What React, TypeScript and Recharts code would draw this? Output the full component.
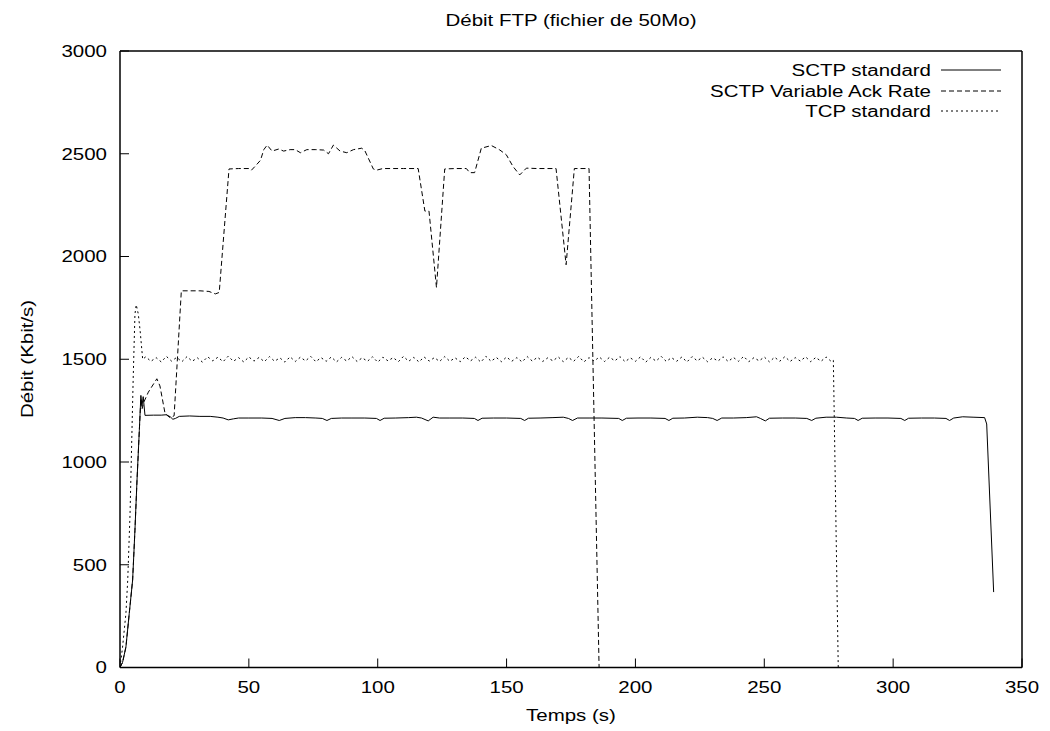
import { LineChart, Line, XAxis, YAxis, Legend } from "recharts";

const FONT = '"Liberation Sans", Arial, Helvetica, sans-serif';
const STRETCH = 1.28;

const X_TICKS = [0, 50, 100, 150, 200, 250, 300, 350];
const Y_TICKS = [0, 500, 1000, 1500, 2000, 2500, 3000];

const SERIES_NAMES = ["SCTP standard", "SCTP Variable Ack Rate", "TCP standard"];
const SERIES_DASH = ["", "5 3", "2 3"];

// [temps (s), débit (Kbit/s)]
const sctpStandard: [number, number][] = [
  [0, 0], [1, 25], [2.3, 100], [3.6, 264], [4.9, 426], [5.8, 668], [6.6, 911], [7.5, 1154],
  [8.1, 1324], [8.5, 1270], [9, 1318], [9.7, 1227], [13, 1228], [16, 1228], [18, 1230],
  [19.5, 1220], [20.5, 1208], [21.5, 1212], [23, 1222], [27, 1224], [31, 1222], [35, 1222],
  [38, 1218], [40, 1214], [42, 1205], [44, 1210], [46, 1214], [50, 1214], [55, 1214],
  [59, 1212], [61.8, 1202], [64, 1212], [68, 1216], [72, 1216], [76, 1214], [78.5, 1212],
  [80.3, 1202], [82, 1212], [86, 1214], [90, 1214], [95, 1214], [99.5, 1212], [100.9, 1202],
  [102.5, 1213], [107, 1214], [112, 1216], [115, 1218], [117, 1214], [119.6, 1200],
  [121.5, 1218], [124, 1214], [128, 1214], [133, 1214], [137.5, 1212], [138.9, 1202],
  [140.5, 1213], [145, 1214], [150, 1214], [155.5, 1212], [157, 1202], [158.5, 1213],
  [163, 1214], [168, 1216], [172, 1218], [174, 1212], [175.6, 1202], [177.5, 1214],
  [182, 1214], [187, 1214], [193.5, 1212], [194.9, 1202], [196.5, 1213], [201, 1214],
  [206, 1214], [211.5, 1212], [213, 1202], [214.5, 1213], [219, 1214], [224, 1218],
  [228, 1216], [230, 1212], [231.7, 1202], [233.5, 1214], [238, 1214], [243, 1216],
  [247, 1220], [248.5, 1212], [250.4, 1200], [252, 1213], [257, 1214], [262, 1214],
  [266.5, 1212], [268.4, 1202], [270, 1213], [274, 1218], [278, 1218], [282, 1214],
  [285, 1212], [286.4, 1202], [288, 1213], [293, 1214], [298, 1214], [303, 1212],
  [304.5, 1202], [306, 1213], [311, 1214], [316, 1214], [320.5, 1212], [321.9, 1202],
  [323.5, 1214], [327, 1220], [331, 1218], [335.5, 1216], [336.3, 1185], [339, 367],
];

const sctpVariableAck: [number, number][] = [
  [0, 0], [1, 25], [2.3, 100], [3.6, 264], [4.9, 426], [5.8, 668], [6.6, 911], [7.5, 1154],
  [8.1, 1310], [8.6, 1260], [9.2, 1290], [11, 1340], [14.3, 1405], [15.5, 1370],
  [17.5, 1235], [19.5, 1215], [21, 1225], [23.8, 1833], [27, 1833], [31, 1833],
  [34.5, 1830], [37, 1818], [38.5, 1825], [42.3, 2426], [46, 2428], [50, 2428],
  [51, 2420], [52.5, 2440], [54.5, 2468], [55.8, 2520], [57.1, 2542], [59, 2513],
  [61.6, 2523], [63.5, 2513], [66, 2520], [68, 2520], [70, 2505], [72.5, 2520],
  [76, 2520], [79, 2518], [80.9, 2500], [82.8, 2542], [85.4, 2513], [88, 2505],
  [90.6, 2520], [93.8, 2527], [95, 2515], [98.3, 2426], [99.5, 2420], [102, 2428],
  [106, 2428], [110, 2428], [115.7, 2428], [118.3, 2221], [119.9, 2221], [122.8, 1849],
  [126, 2426], [130, 2428], [134.4, 2428], [135.7, 2408], [137.6, 2408], [140.2, 2527],
  [144.1, 2540], [147.3, 2519], [149.9, 2495], [152.5, 2438], [155.1, 2397],
  [157.7, 2430], [162, 2428], [166, 2428], [169.2, 2428], [173.1, 1960], [176.3, 2428],
  [182, 2428], [185.9, 0],
];

const tcpRise: [number, number][] = [
  [0, 0], [1, 100], [2.3, 264], [3, 426], [3.9, 750], [4.5, 1073], [5.1, 1397],
  [5.8, 1720], [6.3, 1765], [7.1, 1720], [7.8, 1640], [8.8, 1500],
];

// régime établi, un relevé toutes les 2 s à partir de t = 10 s
const TCP_STEADY_START = 10;
const TCP_STEADY_STEP = 2;
const tcpSteady = [
  1512, 1490, 1508, 1487, 1514, 1491, 1509, 1488, 1513, 1490,
  1507, 1486, 1512, 1492, 1510, 1488, 1515, 1490, 1508, 1487,
  1511, 1491, 1509, 1488, 1513, 1490, 1507, 1486, 1512, 1489,
  1510, 1492, 1514, 1488, 1508, 1490, 1511, 1487, 1509, 1491,
  1513, 1489, 1507, 1490, 1512, 1486, 1510, 1492, 1508, 1488,
  1514, 1490, 1509, 1487, 1511, 1491, 1508, 1489, 1513, 1490,
  1507, 1488, 1512, 1492, 1510, 1486, 1514, 1490, 1509, 1488,
  1511, 1490, 1508, 1487, 1513, 1491, 1510, 1489, 1507, 1492,
  1512, 1488, 1509, 1490, 1514, 1487, 1508, 1491, 1511, 1489,
  1510, 1492, 1513, 1488, 1507, 1490, 1512, 1486, 1509, 1491,
  1514, 1489, 1508, 1490, 1511, 1487, 1513, 1492, 1510, 1488,
  1507, 1491, 1512, 1489, 1509, 1490, 1514, 1488, 1508, 1492,
  1511, 1487, 1510, 1490, 1513, 1489, 1508, 1491, 1512, 1488,
  1509, 1490, 1511, 1489,
];
const tcpEnd: [number, number][] = [[276.8, 1495], [278.7, 0]];

const toRows = (pts: [number, number][]) => pts.map(([t, v]) => ({ t, v }));

const sctpRows = toRows(sctpStandard);
const varRows = toRows(sctpVariableAck);
const tcpRows = [
  ...toRows(tcpRise),
  ...tcpSteady.map((v, i) => ({ t: TCP_STEADY_START + i * TCP_STEADY_STEP, v })),
  ...toRows(tcpEnd),
];

function StretchText({ x, y, anchor, dy, children }: any) {
  return (
    <text
      transform={`translate(${x},${y}) scale(${STRETCH},1)`}
      textAnchor={anchor}
      dy={dy}
      fontFamily={FONT}
      fontSize={16}
      fill="#000"
    >
      {children}
    </text>
  );
}

function XTick({ x, y, payload }: any) {
  return <StretchText x={x} y={y} anchor="middle" dy="0.71em">{payload.value}</StretchText>;
}

function YTick({ x, y, payload }: any) {
  return <StretchText x={x} y={y} anchor="end" dy="0.36em">{payload.value}</StretchText>;
}

const LEGEND_ROWS = [20, 41, 61];

function LegendBox() {
  return (
    <svg width={320} height={80} style={{ display: "block" }}>
      {SERIES_NAMES.map((name, i) => (
        <g key={name}>
          <StretchText x={231} y={LEGEND_ROWS[i] + 6} anchor="end">{name}</StretchText>
          <line
            x1={241} x2={301} y1={LEGEND_ROWS[i]} y2={LEGEND_ROWS[i]}
            stroke="#000" strokeWidth={1}
            strokeDasharray={SERIES_DASH[i] || undefined}
          />
        </g>
      ))}
    </svg>
  );
}

export default function App() {
  const axisLine = { stroke: "#000", strokeWidth: 1.5 };
  const tickLine = { stroke: "#000", strokeWidth: 1 };
  return (
    <div style={{ position: "absolute", left: 0, top: 0, width: 1050, height: 731, background: "#fff" }}>
      <LineChart width={1050} height={731} margin={{ top: 41, right: 18, bottom: 23.5, left: 60 }}>
        <XAxis
          xAxisId="b" dataKey="t" type="number" domain={[0, 350]} ticks={X_TICKS}
          height={40} tickSize={-9} tickMargin={23} axisLine={axisLine} tickLine={tickLine}
          tick={<XTick />} allowDataOverflow
        />
        <XAxis
          xAxisId="t" orientation="top" type="number" domain={[0, 350]} ticks={X_TICKS}
          height={10} tickSize={-9} axisLine={axisLine} tickLine={tickLine} tick={false}
          allowDataOverflow
        />
        <YAxis
          yAxisId="l" type="number" domain={[0, 3000]} ticks={Y_TICKS}
          width={60} tickSize={-9} tickMargin={22} axisLine={axisLine} tickLine={tickLine}
          tick={<YTick />} allowDataOverflow
        />
        <YAxis
          yAxisId="r" orientation="right" type="number" domain={[0, 3000]} ticks={Y_TICKS}
          width={10} tickSize={-9} axisLine={axisLine} tickLine={tickLine} tick={false}
          allowDataOverflow
        />
        <Legend
          verticalAlign="middle" layout="horizontal"
          content={<LegendBox />}
          wrapperStyle={{ left: 700, top: 50, width: 320, height: 80 }}
        />
        <Line
          xAxisId="b" yAxisId="l" data={sctpRows} dataKey="v" name={SERIES_NAMES[0]}
          stroke="#000" strokeWidth={1} dot={false} isAnimationActive={false} type="linear"
        />
        <Line
          xAxisId="b" yAxisId="l" data={varRows} dataKey="v" name={SERIES_NAMES[1]}
          stroke="#000" strokeWidth={1} strokeDasharray={SERIES_DASH[1]} dot={false}
          isAnimationActive={false} type="linear"
        />
        <Line
          xAxisId="b" yAxisId="l" data={tcpRows} dataKey="v" name={SERIES_NAMES[2]}
          stroke="#000" strokeWidth={1} strokeDasharray={SERIES_DASH[2]} dot={false}
          isAnimationActive={false} type="linear"
        />
      </LineChart>
      <svg
        width={1050} height={731}
        style={{ position: "absolute", left: 0, top: 0, pointerEvents: "none" }}
      >
        <StretchText x={571} y={26} anchor="middle">Débit FTP (fichier de 50Mo)</StretchText>
        <g transform="translate(33,359) rotate(-90)">
          <StretchText x={0} y={0} anchor="middle">Débit (Kbit/s)</StretchText>
        </g>
        <StretchText x={571} y={721} anchor="middle">Temps (s)</StretchText>
      </svg>
    </div>
  );
}
